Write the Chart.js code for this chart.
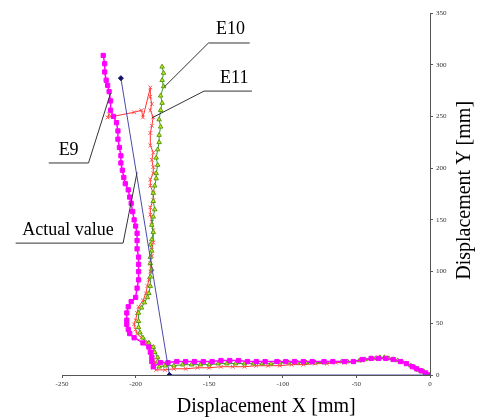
<!DOCTYPE html>
<html>
<head>
<meta charset="utf-8">
<script src="https://cdn.jsdelivr.net/npm/chart.js@4/dist/chart.umd.min.js"></script>
<style>
  html, body { margin: 0; padding: 0; background: #fff; }
  #wrap { width: 480px; height: 419px; position: relative; }
</style>
</head>
<body>
<div id="wrap"><canvas id="chart"></canvas></div>
<script>
// axis ticks
const xTicks = [-250, -200, -150, -100, -50, 0];
const yTicks = [0, 50, 100, 150, 200, 250, 300, 350];

// E9 (magenta squares), from origin out to the left, then up
const e9X = [0, -3, -6, -9, -12, -16, -20, -25, -30, -35, -40, -46, -52, -58, -66, -72, -80, -86, -92, -98,
  -104, -112, -118, -124, -130, -136, -142, -148, -154, -160, -166, -172, -178, -183, -188, -189, -189, -190, -191, -195,
  -201, -204, -205, -206, -206, -206, -205, -203, -200, -199, -198, -198, -198, -198, -199, -199, -199, -200, -201, -202,
  -203, -204, -205, -207, -208, -209, -210, -210, -211, -212, -212, -213, -215, -217, -217, -218, -219, -220, -221, -221, -222];
const e9Y = [0, 2, 4, 6, 8, 11, 13, 15, 16, 16, 16, 15, 13, 13, 13, 13, 13, 13, 13, 13,
  13, 13, 13, 13, 14, 14, 14, 13, 13, 13, 13, 13, 12, 12, 8, 13, 17, 22, 27, 31,
  36, 40, 44, 49, 53, 60, 66, 71, 75, 84, 92, 100, 107, 114, 122, 130, 137, 144, 150, 158,
  166, 172, 179, 185, 191, 198, 205, 212, 220, 228, 236, 244, 250, 256, 265, 274, 280, 285, 293, 301, 309];

// E10 (green triangles)
const e10X = [0, -2, -4, -6, -8, -10, -13, -16, -19, -22, -25, -28, -31, -34, -37, -40, -44, -48, -52, -56,
  -60, -66, -72, -78, -84, -90, -96, -102, -108, -114, -120, -126, -132, -138, -144, -150, -156, -162, -168, -174,
  -180, -184, -185, -185, -187, -188, -191, -195, -197, -198, -198, -198, -196, -194, -192, -191, -190, -190, -189, -190,
  -190, -189, -190, -189, -188, -189, -188, -187, -188, -188, -187, -186, -186, -185, -186, -185, -184, -184, -183, -184,
  -183, -182, -183, -181, -182, -181, -182];
const e10Y = [0, 1, 3, 4, 5, 7, 9, 11, 13, 14, 15, 16, 17, 17, 16, 16, 15, 14, 13, 13,
  13, 13, 12, 12, 12, 12, 12, 12, 11, 11, 11, 11, 11, 11, 11, 10, 10, 10, 10, 9,
  9, 8, 13, 17, 22, 27, 31, 36, 41, 46, 52, 60, 65, 70, 75, 79, 86, 95, 102, 108,
  114, 120, 126, 131, 138, 145, 153, 160, 168, 176, 183, 190, 195, 203, 210, 218, 225, 232, 240, 247,
  256, 263, 270, 279, 285, 292, 298];

// E11 (red crosses)
const e11X = [0, -3, -6, -9, -12, -16, -20, -25, -30, -35, -40, -46, -52, -58, -64, -70, -78, -86, -94, -102,
  -110, -118, -126, -134, -142, -150, -158, -166, -174, -180, -186, -188, -187, -188, -188, -188, -192, -196, -199, -200,
  -201, -200, -199, -198, -195, -193, -192, -191, -190, -190, -189, -189, -188, -188, -189, -190, -190, -188, -188, -190,
  -190, -188, -188, -189, -188, -190, -190, -189, -188, -190, -189, -190, -190, -195, -196, -201, -219, -218];
const e11Y = [0, 2, 4, 6, 8, 11, 13, 15, 17, 17, 16, 14, 13, 12, 12, 11, 11, 10, 10, 9,
  9, 9, 8, 8, 8, 7, 7, 6, 6, 5, 5, 7, 12, 17, 22, 27, 31, 36, 40, 44,
  49, 53, 60, 66, 72, 79, 86, 92, 100, 108, 115, 121, 128, 140, 148, 155, 162, 169, 176, 183,
  189, 195, 201, 208, 215, 222, 234, 241, 249, 256, 262, 269, 278, 249, 256, 254, 249, 252];

// Actual value (blue line)
const actualX = [-210, -177, 0];
const actualY = [287, 0, 0];

function toPoints(xs, ys) {
  return xs.map((x, i) => ({ x: x, y: ys[i] }));
}

// callouts: label text, text anchor and leader path, in data units
const callouts = [
  { text: 'E10', at: [-135.5, 334], path: [[-122.5, 321], [-150.5, 321], [-180.5, 278.5]] },
  { text: 'E11', at: [-133, 287], path: [[-121, 274.5], [-153.5, 274.5], [-189, 248.5]] },
  { text: 'E9', at: [-245.5, 217.5], path: [[-259, 205], [-232, 205], [-217, 272.5]] },
  { text: 'Actual value', at: [-246, 140], path: [[-281.5, 127.5], [-208.5, 127.5], [-199, 196]] },
];

const serif = '"Liberation Serif", "Times New Roman", serif';

const calloutPlugin = {
  id: 'callouts',
  afterDatasetsDraw(chart) {
    const ctx = chart.ctx;
    const xs = chart.scales.x;
    const ys = chart.scales.y;
    ctx.save();
    ctx.strokeStyle = '#333';
    ctx.lineWidth = 1;
    ctx.fillStyle = '#000';
    ctx.font = '18px ' + serif;
    ctx.textAlign = 'center';
    ctx.textBaseline = 'middle';
    callouts.forEach(c => {
      ctx.beginPath();
      c.path.forEach((p, i) => {
        const px = xs.getPixelForValue(p[0]);
        const py = ys.getPixelForValue(p[1]);
        if (i === 0) ctx.moveTo(px, py); else ctx.lineTo(px, py);
      });
      ctx.stroke();
      ctx.fillText(c.text, xs.getPixelForValue(c.at[0]), ys.getPixelForValue(c.at[1]));
    });

    // axis titles
    const area = chart.chartArea;
    ctx.font = '20px ' + serif;
    ctx.fillText('Displacement X [mm]', area.left + (area.right - area.left) * 0.555, area.bottom + 32);
    ctx.translate(area.right + 35, area.top + (area.bottom - area.top) * 0.49);
    ctx.rotate(-Math.PI / 2);
    ctx.fillText('Displacement Y [mm]', 0, 0);
    ctx.restore();
  }
};

const ctx = document.getElementById('chart').getContext('2d');
const myChart = new Chart(ctx, {
  type: 'scatter',
  data: {
    datasets: [
      {
        label: 'Actual value',
        data: toPoints(actualX, actualY),
        showLine: true,
        borderColor: '#4a4aa8',
        borderWidth: 1,
        pointStyle: 'rectRot',
        pointRadius: [2.5, 2.5, 0],
        pointBackgroundColor: '#10106a',
        pointBorderColor: '#10106a',
        order: 0,
      },
      {
        label: 'E9',
        data: toPoints(e9X, e9Y),
        showLine: true,
        borderColor: '#ff00ff',
        borderWidth: 1.5,
        pointStyle: 'rect',
        pointRadius: 3,
        pointBackgroundColor: '#ff00ff',
        pointBorderColor: '#ff00ff',
        pointBorderWidth: 1,
        order: 1,
      },
      {
        label: 'E10',
        data: toPoints(e10X, e10Y),
        showLine: true,
        borderColor: '#2f9a2f',
        borderWidth: 1,
        pointStyle: 'triangle',
        pointRadius: 2.6,
        pointBackgroundColor: '#c8e81e',
        pointBorderColor: '#5c9a10',
        pointBorderWidth: 1,
        order: 2,
      },
      {
        label: 'E11',
        data: toPoints(e11X, e11Y),
        showLine: true,
        borderColor: '#ff3030',
        borderWidth: 1,
        pointStyle: 'crossRot',
        pointRadius: 2.6,
        pointBorderColor: '#ff5050',
        pointBorderWidth: 1,
        order: 3,
      },
    ],
  },
  options: {
    responsive: true,
    maintainAspectRatio: false,
    animation: false,
    layout: {
      padding: { left: 62, top: 13, right: 0, bottom: 0 },
    },
    plugins: {
      legend: { display: false },
      tooltip: { enabled: false },
    },
    scales: {
      x: {
        type: 'linear',
        position: 'bottom',
        min: xTicks[0],
        max: xTicks[xTicks.length - 1],
        afterBuildTicks: (scale) => { scale.ticks = xTicks.map(v => ({ value: v })); },
        afterFit: (scale) => { scale.height = 44; },
        border: { display: true, color: '#555', width: 1 },
        grid: { drawOnChartArea: false, drawTicks: true, tickLength: 3, color: '#555' },
        ticks: {
          font: { family: serif, size: 7 },
          color: '#333',
          padding: 2,
          maxRotation: 0,
        },
        title: { display: false },
      },
      y: {
        type: 'linear',
        position: 'right',
        min: yTicks[0],
        max: yTicks[yTicks.length - 1],
        afterBuildTicks: (scale) => { scale.ticks = yTicks.map(v => ({ value: v })); },
        afterFit: (scale) => { scale.width = 50; },
        border: { display: true, color: '#555', width: 1 },
        grid: { drawOnChartArea: false, drawTicks: true, tickLength: 3, color: '#555' },
        ticks: {
          font: { family: serif, size: 7 },
          color: '#333',
          padding: 3,
        },
        title: { display: false },
      },
    },
  },
  plugins: [calloutPlugin],
});
</script>
</body>
</html>
